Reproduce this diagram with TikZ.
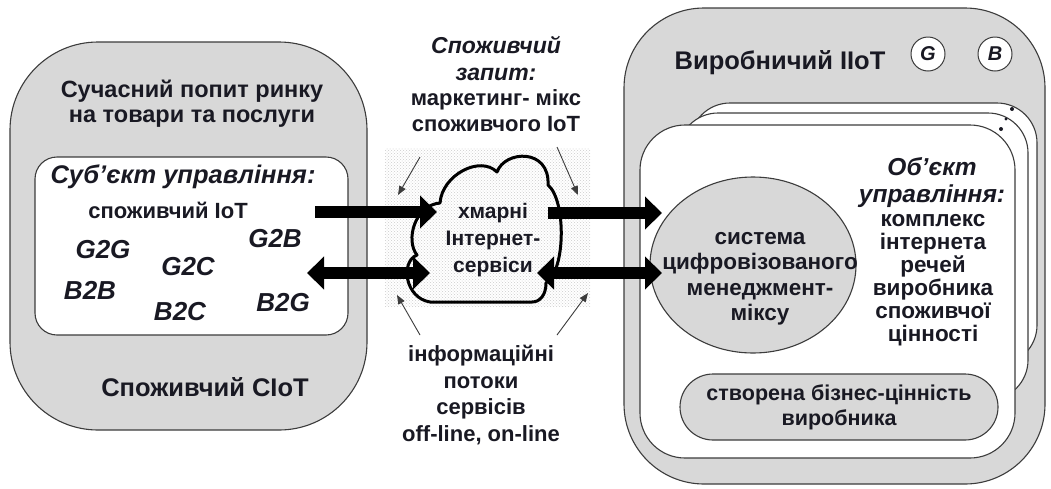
\documentclass[tikz,border=0pt]{standalone}
\usepackage{fontspec}
\setmainfont{Liberation Sans}
\usetikzlibrary{arrows.meta,patterns,shapes.geometric}
\definecolor{boxgray}{RGB}{216,216,216}
\definecolor{edge}{RGB}{60,60,60}
\definecolor{ink}{RGB}{25,25,35}
\newcommand{\fsz}[2]{\fontsize{#1}{#2}\selectfont}
\begin{document}
\begin{tikzpicture}[x=1pt,y=-1pt,
  txt/.style={font=\fsz{22}{25}\bfseries, align=center, inner sep=0pt, text=ink},
  itxt/.style={font=\fsz{22}{25}\bfseries\itshape, align=center, inner sep=0pt, text=ink},
  frame/.style={draw=edge, line width=1.1pt},
  fat/.style={line width=12pt, -{Triangle[length=17pt,width=32pt]}},
  fatboth/.style={line width=12pt, {Triangle[length=17pt,width=32pt]}-{Triangle[length=17pt,width=32pt]}},
  thinarrow/.style={line width=0.9pt, draw=edge, -{Triangle[length=9pt,width=7pt]}},
  circ/.style={draw=edge, line width=1pt, fill=white, circle, minimum size=34pt, inner sep=0pt, text=ink, font=\fsz{20}{22}\bfseries\itshape},
]
\useasboundingbox (0,0) rectangle (1051,488);
\fill[white] (0,0) rectangle (1051,488);

% ---------- left block ----------
\draw[frame, fill=boxgray, rounded corners=88pt] (10,42) rectangle (367,430);
\draw[frame, fill=white, rounded corners=22pt] (35,157) rectangle (348,335);
\node[txt, font=\fsz{23.5}{25}\bfseries] (demand) at (192,104) {Сучасний попит ринку\\на товари та послуги};
\node[itxt, font=\fsz{25.5}{27}\bfseries\itshape] (subj) at (183,177) {Суб’єкт управління:};
\node[txt] (ciot) at (168,210) {споживчий IoT};
\node[itxt, font=\fsz{26}{27}\bfseries\itshape] (g2g) at (103,250) {G2G};
\node[itxt, font=\fsz{26}{27}\bfseries\itshape] (g2c) at (188,267) {G2C};
\node[itxt, font=\fsz{26}{27}\bfseries\itshape] (g2b) at (275,239) {G2B};
\node[itxt, font=\fsz{26}{27}\bfseries\itshape] (b2b) at (90,290) {B2B};
\node[itxt, font=\fsz{26}{27}\bfseries\itshape] (b2c) at (180,312) {B2C};
\node[itxt, font=\fsz{26}{27}\bfseries\itshape] (b2g) at (283,303) {B2G};
\node[txt, font=\fsz{25.5}{27}\bfseries] (cons) at (205,387) {Споживчий CIoT};

% ---------- middle ----------
\fill[pattern=crosshatch dots, pattern color=black!20] (385,148) rectangle (590,306);
\draw[line width=3pt, line join=round] (430,302) .. controls (405,298) and (400,262) .. (417,255)
  .. controls (405,240) and (415,205) .. (440,203)
  .. controls (442,175) and (480,155) .. (497,172)
  .. controls (505,150) and (550,148) .. (548,185)
  .. controls (566,200) and (566,270) .. (546,283)
  .. controls (546,295) and (540,302) .. (532,302) -- cycle;
\node[txt, font=\fsz{21}{27}\bfseries] (cloud) at (493,240) {хмарні\\Інтернет-\\сервіси};
\node[itxt, font=\fsz{23}{27}\bfseries\itshape] (req) at (496,58) {Споживчий\\запит:};
\node[txt, font=\fsz{22}{26}\bfseries] (mix) at (496,111) {маркетинг- мікс\\споживчого IoT};
\node[txt, font=\fsz{22}{26.7}\bfseries] (flows) at (481,395) {інформаційні\\потоки\\сервісів\\off-line, on-line};

% ---------- right block ----------
\draw[frame, fill=boxgray, rounded corners=80pt] (624,8) rectangle (1045,484);
\node[txt, font=\fsz{25.5}{27}\bfseries] (iiot) at (780,63) {Виробничий IIoT};
\node[circ] (gc) at (928,54) {G};
\node[circ] (bc) at (995,54) {B};
\draw[frame, fill=white, rounded corners=40pt] (690,103) rectangle (1037,365);
\draw[frame, fill=white, rounded corners=40pt] (678,113) rectangle (1028,400);
\draw[frame, fill=white, rounded corners=45pt] (640,125) rectangle (1015,458);
\fill[ink] (1012,109) circle (2pt) (1006,119) circle (1.6pt) (1001,129) circle (2pt);
\node[frame, fill=boxgray, ellipse, minimum width=206pt, minimum height=176pt] (sys) at (753,265) {};
\node[txt, font=\fsz{22.5}{25.5}\bfseries] (systxt) at (760,279) {система\\цифровізованого\\менеджмент-\\міксу};
\node[itxt, font=\fsz{24.5}{27}\bfseries\itshape] (obj) at (932,183) {Об’єкт\\управління:};
\node[txt, font=\fsz{22.5}{23}\bfseries] (objtxt) at (933,280) {комплекс\\інтернета\\речей\\виробника\\споживчої\\цінності};
\node[txt, font=\fsz{21.5}{25}\bfseries, draw=edge, line width=1.1pt, fill=boxgray, rounded corners=33pt, minimum width=318pt, minimum height=66pt] (value) at (839,407) {створена бізнес-цінність\\виробника};

% ---------- connectors ----------
\coordinate (a1s) at (315,212); \coordinate (a1e) at (437,212);
\coordinate (a2s) at (548,213); \coordinate (a2e) at (662,213);
\coordinate (a3s) at (307,273); \coordinate (a3e) at (430,273);
\coordinate (a4s) at (537,273); \coordinate (a4e) at (662,273);
\draw[fat] (a1s) -- (a1e);
\draw[fat] (a2s) -- (a2e);
\draw[fatboth] (a3s) -- (a3e);
\draw[fatboth] (a4s) -- (a4e);

\coordinate (t1s) at (420,157); \coordinate (t1e) at (398,195);
\coordinate (t2s) at (557,147); \coordinate (t2e) at (578,195);
\coordinate (t3s) at (420,335); \coordinate (t3e) at (397,295);
\coordinate (t4s) at (557,335); \coordinate (t4e) at (588,293);
\draw[thinarrow] (t1s) -- (t1e);
\draw[thinarrow] (t2s) -- (t2e);
\draw[thinarrow] (t3s) -- (t3e);
\draw[thinarrow] (t4s) -- (t4e);
\end{tikzpicture}
\end{document}
